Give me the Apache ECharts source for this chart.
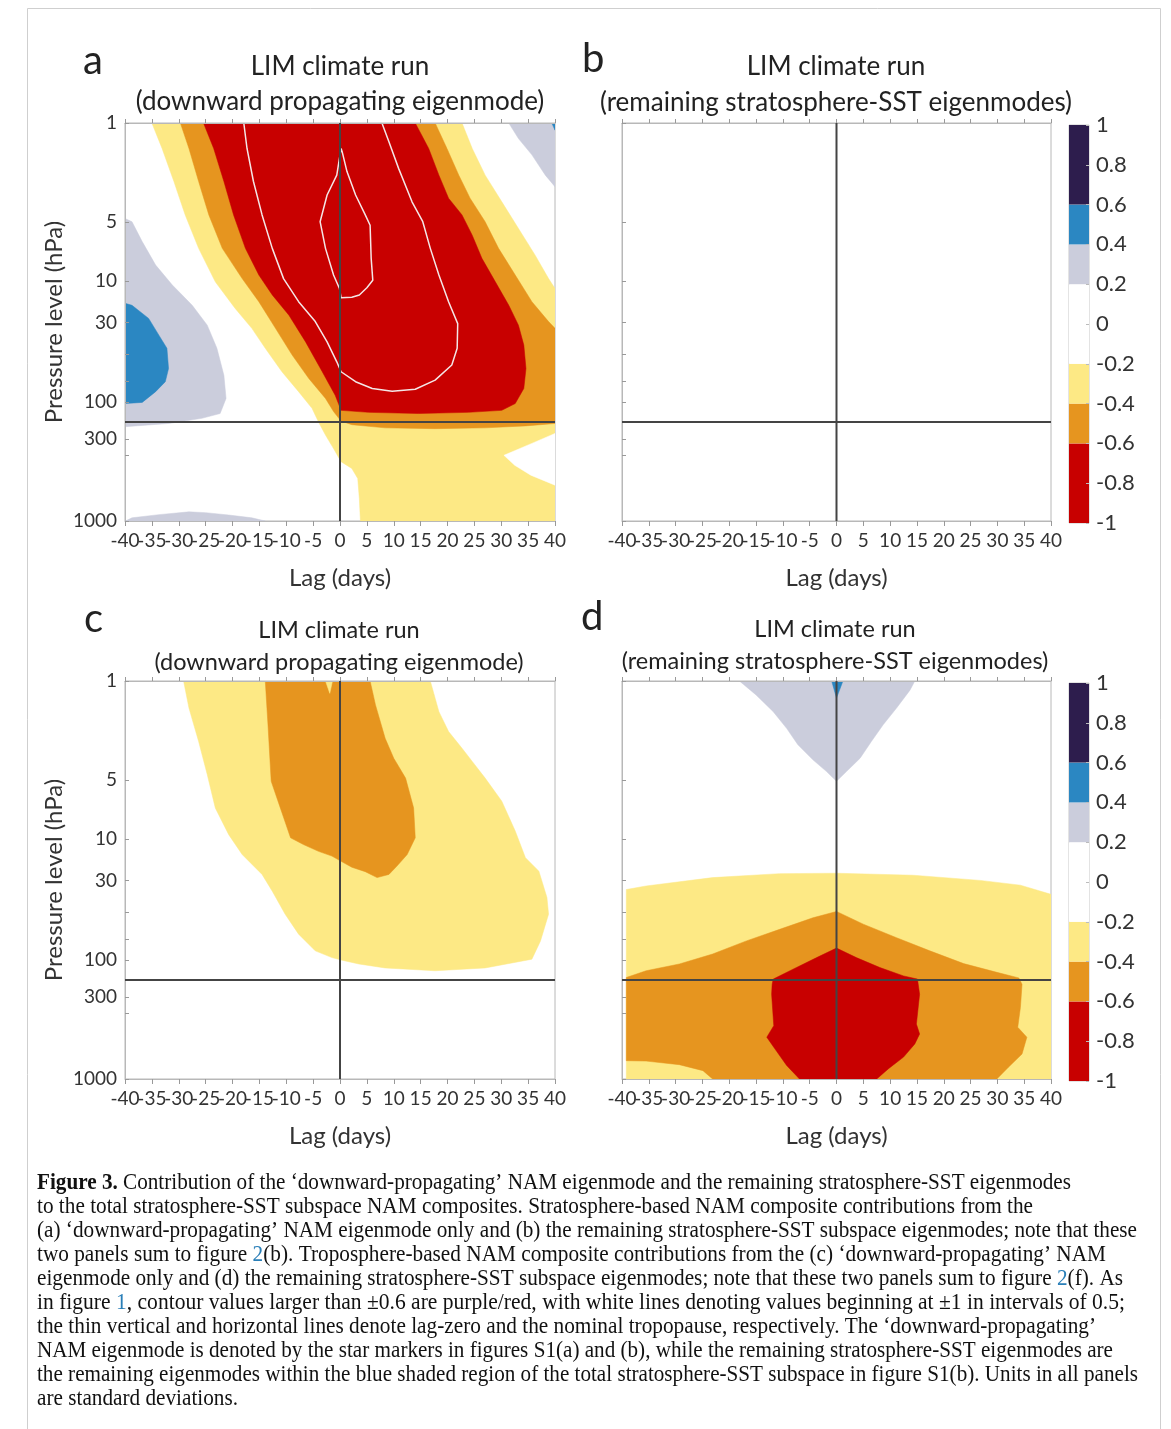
<!DOCTYPE html>
<html>
<head>
<meta charset="utf-8">
<script src="https://cdn.jsdelivr.net/npm/echarts@6/dist/echarts.min.js"></script>
<style>
  html, body { margin: 0; padding: 0; background: #fff; }
  #fig { width: 1171px; height: 1429px; }
</style>
</head>
<body>
<div id="fig"></div>
<script>
// ---- axes ----
const lagMin = -40, lagMax = 40, lagStep = 5;
const lagTickLabels = ['-40','-35','-30','-25','-20','-15','-10','-5','0','5','10','15','20','25','30','35','40'];
const levelLabels = ['1', '5', '10', '30', '100', '300', '1000'];
// where each pressure label sits down the axis (0 = top, 100 = bottom)
const levelPos = [0, 24.9, 39.7, 50.1, 70.1, 79.4, 100];
const levelTickPos = [0, 24.9, 39.7, 50.1, 58.0, 64.8, 70.1, 79.4, 83.4, 100];
const tropopausePos = 75.1;

// ---- colour scale ----
const cbarLevels = [-1, -0.6, -0.4, -0.2, 0.2, 0.4, 0.6, 1];
const cbarColors = ['#c80000', '#e6951f', '#fde985', '#ffffff', '#cbcddc', '#2b87c2', '#2d1d4d'];
// band index: 0 red, 1 orange, 2 yellow, 3 white, 4 grey, 5 blue, 6 purple

// ---- panel a : contour regions, [lag, level position] ----
const aYellow = [[-35.0,0],[-33.1,6.4],[-30.9,14.7],[-28.8,23.1],[-26.3,31.5],[-23.2,39.9],[-19.5,46.6],[-16.4,51.6],[-13.9,56.6],[-10.8,62.5],[-7.7,67.5],[-5.2,71.7],[-4.0,75.1],[-2.7,78.4],[-1.2,81.8],[0.2,85.1],[2.2,86.8],[3.3,89.3],[3.6,94.4],[3.8,100],[40,100],[40,41.6],[38.8,39.1],[36.3,33.2],[33.2,26.5],[30.1,19.8],[27.0,13.1],[24.6,6.4],[22.7,0]];
const aOrange = [[-29.7,0],[-28.1,6.4],[-26.3,14.7],[-24.4,23.1],[-21.9,31.5],[-18.2,39.1],[-15.1,44.9],[-12.0,51.6],[-8.9,58.3],[-5.8,64.2],[-2.7,69.2],[-1.2,72.5],[0.2,74.9],[2.2,75.8],[8.4,76.6],[17.7,76.8],[27.0,76.6],[34.5,76.1],[40,75.5],[40,51.6],[38.8,49.9],[35.7,44.9],[32.6,38.2],[29.5,31.5],[27.0,24.8],[24.2,18.9],[22.1,13.1],[19.9,6.4],[17.7,0]];
const aRed = [[-25.4,0],[-23.5,6.4],[-21.6,14.7],[-19.8,23.1],[-17.6,31.5],[-15.1,38.2],[-12.6,43.2],[-9.5,48.3],[-6.4,55.0],[-3.3,62.5],[-0.9,68.4],[0.2,72.2],[5.3,72.7],[14.6,73.0],[23.9,72.7],[30.1,72.2],[32.6,70.5],[34.2,66.7],[34.6,61.7],[34.2,55.8],[33.2,50.8],[31.4,45.8],[28.9,39.9],[26.4,34.0],[24.6,28.2],[22.7,23.1],[20.2,18.9],[18.4,13.1],[16.5,6.4],[14.0,0]];
const aWhiteHole = [[40,78.0],[35.7,80.5],[30.5,83.5],[32.5,86.0],[35.5,88.5],[40,91.0]];
const aGreyLeft = [[-40,24.0],[-38.7,24.8],[-36.8,29.8],[-34.3,35.7],[-31.2,40.7],[-27.5,45.8],[-24.7,50.8],[-22.9,56.6],[-21.6,63.4],[-21.2,69.2],[-22.3,73.0],[-25.7,74.2],[-31.9,75.5],[-40,76.3]];
const aBlueLeft = [[-40,45.3],[-38.7,45.8],[-35.6,49.1],[-33.7,53.3],[-32.2,56.6],[-31.9,61.7],[-32.5,65.0],[-34.3,67.5],[-36.8,70.2],[-40,70.5]];
const aGreyCorner = [[31.4,0],[33.2,3.9],[35.7,8.0],[38.2,13.1],[40,16.0],[40,0]];
const aBlueCorner = [[39.4,0],[40,1.8],[40,0]];
const aGreyBottom = [[-39.9,100],[-38.7,99.2],[-33.7,98.4],[-28.1,97.7],[-25.0,97.9],[-20.7,98.5],[-16.4,99.2],[-13.9,100]];
// white contour lines (-1 and -1.5)
const aMinus1 = [[-17.9,0],[-17.3,6.4],[-16.1,14.7],[-14.5,23.1],[-12.6,31.5],[-10.5,39.1],[-7.7,44.9],[-4.6,49.9],[-2.4,55.0],[-0.6,60.0],[0.2,62.5],[2.9,65.0],[6.0,66.7],[9.7,67.4],[14.0,66.9],[17.7,64.6],[20.8,60.8],[21.8,56.6],[21.9,50.4],[20.2,44.9],[18.4,38.2],[16.8,31.5],[15.4,24.8],[13.4,19.8],[10.9,11.4],[9.1,4.7],[7.8,0]];
const aMinus15 = [[0.2,6.4],[-0.6,13.1],[-2.4,18.1],[-3.7,24.8],[-2.7,31.5],[-1.2,38.2],[-0.1,41.6],[0.2,43.9],[2.2,43.8],[3.6,43.2],[5.0,41.4],[6.1,39.5],[5.8,34.0],[5.6,25.7],[4.7,23.1],[2.9,18.1],[1.3,12.2],[0.4,7.2],[0.2,6.4]];

// ---- panel c ----
const cYellow = [[-29.1,0],[-28.1,6.8],[-26.3,15.2],[-24.7,23.5],[-23.2,31.9],[-20.7,38.6],[-18.2,43.6],[-14.5,48.6],[-12.6,52.8],[-10.2,58.6],[-7.7,63.6],[-4.6,67.8],[-1.5,69.5],[0.2,70.1],[3.5,71.1],[8.4,72.1],[17.7,72.8],[27.0,72.1],[35.7,69.9],[37.3,65.3],[38.8,58.6],[38.5,54.4],[37.0,47.8],[34.5,44.4],[32.6,37.7],[30.1,30.2],[27.0,24.4],[24.6,20.2],[22.7,16.9],[20.2,12.7],[18.4,7.7],[16.8,0]];
const cOrange = [[-13.9,0],[-13.4,11.0],[-12.8,25.2],[-11.1,31.9],[-9.2,39.4],[-6.8,41.1],[-4.0,42.8],[-1.5,44.0],[0.2,45.3],[2.2,46.8],[4.7,47.9],[6.9,49.4],[9.1,48.6],[10.6,46.5],[12.5,43.6],[14.0,39.4],[13.7,31.9],[12.2,24.4],[10.0,19.4],[8.4,14.4],[6.6,6.0],[5.6,0]];
const cNotch = [[-2.7,0],[-1.9,3.1],[-1.4,0]];

// ---- panel d ----
const dGrey = [[-18.1,0],[-15.0,3.5],[-11.8,7.7],[-9.3,11.9],[-7.2,16.0],[-4.4,19.8],[-1.9,22.7],[0,25.2],[1.9,22.7],[4.4,19.4],[6.5,15.2],[8.7,11.0],[11.2,6.8],[13.7,2.3],[14.6,0]];
const dBlue = [[-0.9,0],[0,4.3],[1.2,0]];
const dYellow = [[-39.2,52.4],[-35.5,51.5],[-23.1,49.4],[-10.6,48.4],[0,48.3],[14.3,48.8],[26.8,50.1],[34.3,51.3],[40,53.6],[40,100],[-39.2,100]];
const dOrange = [[-39.2,74.5],[-35.5,72.8],[-29.3,71.1],[-23.1,68.6],[-16.8,65.3],[-10.6,62.4],[-4.4,59.5],[0,57.9],[5.0,61.1],[11.2,64.5],[17.4,67.8],[23.7,71.0],[29.9,73.2],[34.0,74.6],[34.6,76.2],[34.3,82.0],[33.8,87.0],[35.5,89.5],[34.6,93.7],[32.1,97.0],[29.9,100],[-23.1,100],[-24.9,97.9],[-29.3,96.4],[-35.5,95.5],[-39.2,95.4]];
const dRed = [[-11.8,74.9],[-8.1,72.4],[-3.7,69.5],[0,67.1],[3.7,69.5],[8.1,72.0],[12.5,74.1],[15.1,74.9],[15.5,78.7],[14.9,86.2],[15.5,88.7],[14.6,91.2],[12.5,94.5],[9.7,97.4],[7.5,100],[-6.9,100],[-9.3,96.6],[-11.5,92.4],[-13.0,89.5],[-11.7,86.6],[-12.1,78.7],[-12.0,76.2]];

const panels = [
  { letter: 'a', title: ['LIM climate run', '(downward propagating eigenmode)'],
    fills: [[aYellow,2],[aOrange,1],[aRed,0],[aWhiteHole,3],[aGreyLeft,4],[aBlueLeft,5],[aGreyCorner,4],[aBlueCorner,5],[aGreyBottom,4]],
    lines: [aMinus1, aMinus15] },
  { letter: 'b', title: ['LIM climate run', '(remaining stratosphere-SST eigenmodes)'], fills: [], lines: [] },
  { letter: 'c', title: ['LIM climate run', '(downward propagating eigenmode)'],
    fills: [[cYellow,2],[cOrange,1],[cNotch,2]], lines: [] },
  { letter: 'd', title: ['LIM climate run', '(remaining stratosphere-SST eigenmodes)'],
    fills: [[dYellow,2],[dOrange,1],[dRed,0],[dGrey,4],[dBlue,5]], lines: [] }
];

// ---- caption ----
const captionLines = [
  [['b','Figure 3.'],['n',' Contribution of the \u2018downward-propagating\u2019 NAM eigenmode and the remaining stratosphere-SST eigenmodes']],
  [['n','to the total stratosphere-SST subspace NAM composites. Stratosphere-based NAM composite contributions from the']],
  [['n','(a) \u2018downward-propagating\u2019 NAM eigenmode only and (b) the remaining stratosphere-SST subspace eigenmodes; note that these']],
  [['n','two panels sum to figure '],['l','2'],['n','(b). Troposphere-based NAM composite contributions from the (c) \u2018downward-propagating\u2019 NAM']],
  [['n','eigenmode only and (d) the remaining stratosphere-SST subspace eigenmodes; note that these two panels sum to figure '],['l','2'],['n','(f). As']],
  [['n','in figure '],['l','1'],['n',', contour values larger than \u00b10.6 are purple/red, with white lines denoting values beginning at \u00b11 in intervals of 0.5;']],
  [['n','the thin vertical and horizontal lines denote lag-zero and the nominal tropopause, respectively. The \u2018downward-propagating\u2019']],
  [['n','NAM eigenmode is denoted by the star markers in figures S1(a) and (b), while the remaining stratosphere-SST eigenmodes are']],
  [['n','the remaining eigenmodes within the blue shaded region of the total stratosphere-SST subspace in figure S1(b). Units in all panels']],
  [['n','are standard deviations.']]
];
const captionRight = [1071, 1033, 1137, 1106, 1123, 1125, 1096, 1113, 1138, 238];

// ---- layout ----
const boxes = [[125,123,430,398],[622,123,429,398],[125,681,430,398],[622,681,429,398]];
const cbarBoxes = [[1069,125,20,398],[1069,683,20,398]];
const FONT = 'Lato';
const TXT = '#333';

const chart = echarts.init(document.getElementById('fig'));

const grid = [], xAxis = [], yAxis = [], series = [], graphic = [];

boxes.forEach(b => {
  grid.push({ left: b[0], top: b[1], width: b[2], height: b[3], show: true, borderColor: '#b8b8b8', borderWidth: 1 });
});
cbarBoxes.forEach(b => {
  grid.push({ left: b[0], top: b[1], width: b[2], height: b[3], show: true, borderColor: '#c8c8c8', borderWidth: 1 });
});

// bottom lag axes 0..3: labelled ticks (category so every crowded label is kept)
boxes.forEach((b, i) => {
  xAxis.push({
    gridIndex: i, type: 'category', data: lagTickLabels, boundaryGap: false, position: 'bottom', z: 5,
    name: 'Lag (days)', nameLocation: 'middle', nameGap: 45,
    nameTextStyle: { fontFamily: FONT, fontSize: 24, color: TXT },
    axisLine: { onZero: false, lineStyle: { color: '#b8b8b8' } },
    axisTick: { length: 5, interval: 0, alignWithLabel: true, lineStyle: { color: '#999' } },
    axisLabel: { interval: 0, fontFamily: FONT, fontSize: 19, color: TXT, margin: 10 },
    splitLine: { show: false }
  });
});
// top lag axes 4..7: value axes carrying the data, ticks only
boxes.forEach((b, i) => {
  xAxis.push({
    gridIndex: i, type: 'value', position: 'top', min: lagMin, max: lagMax, interval: lagStep, z: 5,
    axisLine: { onZero: false, lineStyle: { color: '#b8b8b8' } },
    axisTick: { length: 4, lineStyle: { color: '#999' } },
    axisLabel: { show: false }, splitLine: { show: false }
  });
});
// colour bar x axes 8, 9
cbarBoxes.forEach((b, k) => {
  xAxis.push({ gridIndex: 4 + k, type: 'value', min: 0, max: 1, show: false });
});

// pressure axes 0..3
boxes.forEach((b, i) => {
  const left = (i % 2 === 0);
  yAxis.push({
    gridIndex: i, type: 'value', inverse: true, min: 0, max: 100, z: 5,
    name: left ? 'Pressure level (hPa)' : '', nameLocation: 'middle', nameGap: 59,
    nameTextStyle: { fontFamily: FONT, fontSize: 24, color: TXT },
    axisLine: { onZero: false, lineStyle: { color: '#b8b8b8' } },
    axisTick: { inside: true, length: 4, customValues: levelTickPos, lineStyle: { color: '#999' } },
    axisLabel: {
      show: left, customValues: levelPos, fontFamily: FONT, fontSize: 19, color: TXT, margin: 8,
      formatter: v => {
        const k = levelPos.findIndex(p => Math.abs(p - v) < 0.01);
        return k >= 0 ? levelLabels[k] : '';
      }
    },
    splitLine: { show: false }
  });
});
// colour bar value axes 4, 5
cbarBoxes.forEach((b, k) => {
  yAxis.push({
    gridIndex: 4 + k, type: 'value', position: 'right', min: -1, max: 1, interval: 0.2, z: 5,
    axisLine: { show: false, onZero: false },
    axisTick: { inside: true, length: 3, lineStyle: { color: '#bbb' } },
    axisLabel: { fontFamily: FONT, fontSize: 22, color: TXT, margin: 7 },
    splitLine: { show: false }
  });
});

// filled contour regions
panels.forEach((p, i) => {
  const xi = 4 + i;
  p.fills.forEach(([poly, ci]) => {
    series.push({
      type: 'custom', xAxisIndex: xi, yAxisIndex: i, clip: true, silent: true, z: 2,
      data: poly,
      renderItem: (params, api) => {
        if (params.dataIndex !== 0) return;
        return {
          type: 'polygon',
          shape: { points: poly.map(pt => api.coord(pt)) },
          style: { fill: cbarColors[ci], stroke: cbarColors[ci], lineWidth: 0.5 }
        };
      }
    });
  });
  p.lines.forEach(ln => {
    series.push({
      type: 'line', xAxisIndex: xi, yAxisIndex: i, data: ln, showSymbol: false, silent: true, z: 3,
      lineStyle: { color: '#f4e6e6', width: 1.5 }
    });
  });
  // lag-zero and tropopause lines
  series.push({
    type: 'line', xAxisIndex: xi, yAxisIndex: i, data: [[0, 0], [0, 100]], showSymbol: false, silent: true, z: 6,
    lineStyle: { color: '#444', width: 2 }
  });
  series.push({
    type: 'line', xAxisIndex: xi, yAxisIndex: i, data: [[lagMin, tropopausePos], [lagMax, tropopausePos]],
    showSymbol: false, silent: true, z: 6, lineStyle: { color: '#444', width: 2 }
  });
});

// colour bars
const bands = cbarColors.map((c, k) => [cbarLevels[k], cbarLevels[k + 1], k]);
cbarBoxes.forEach((b, k) => {
  series.push({
    type: 'custom', xAxisIndex: 8 + k, yAxisIndex: 4 + k, silent: true, data: bands,
    renderItem: (params, api) => {
      const top = api.coord([0, api.value(1)]);
      const bot = api.coord([1, api.value(0)]);
      return {
        type: 'rect',
        shape: { x: top[0], y: top[1], width: bot[0] - top[0], height: bot[1] - top[1] },
        style: { fill: cbarColors[api.value(2)] }
      };
    }
  });
});

// panel letters and titles
const letterPos = [[83, 61], [582, 59], [84, 619], [581, 617]];
const titlePos = [[340, 67, 102, 26], [836, 67, 103, 26], [339, 630, 662, 23.5], [835, 629, 661, 23.5]];
panels.forEach((p, i) => {
  graphic.push({ type: 'text', x: letterPos[i][0], y: letterPos[i][1],
    style: { text: p.letter, font: '40px ' + FONT, fill: '#222', verticalAlign: 'middle' } });
  const t = titlePos[i];
  graphic.push({ type: 'text', x: t[0], y: t[1],
    style: { text: p.title[0], font: t[3] + 'px ' + FONT, fill: '#222', align: 'center', verticalAlign: 'middle' } });
  graphic.push({ type: 'text', x: t[0], y: t[2],
    style: { text: p.title[1], font: t[3] + 'px ' + FONT, fill: '#222', align: 'center', verticalAlign: 'middle' } });
});

// caption, each line squeezed to the width it has in the printed figure
const fonts = { n: '22.5px "Liberation Serif"', b: 'bold 22.5px "Liberation Serif"', l: '22.5px "Liberation Serif"' };
const fills = { n: '#111', b: '#111', l: '#2a7fb8' };
const measure = document.createElement('canvas').getContext('2d');
captionLines.forEach((line, r) => {
  const widths = line.map(([s, t]) => { measure.font = fonts[s]; return measure.measureText(t).width; });
  const total = widths.reduce((a, b) => a + b, 0);
  const sx = (captionRight[r] - 37) / total;
  let x = 37;
  line.forEach(([s, t], j) => {
    graphic.push({ type: 'text', x: x, y: 1183 + r * 24, scaleX: sx,
      style: { text: t, font: fonts[s], fill: fills[s], verticalAlign: 'middle' } });
    x += widths[j] * sx;
  });
});

// thin frame round the figure
graphic.push({ type: 'rect', shape: { x: 27.5, y: 8.5, width: 1133, height: 1440 },
  style: { fill: 'none', stroke: '#cfcfcf', lineWidth: 1 }, z: -1 });

chart.setOption({
  backgroundColor: '#fff',
  animation: false,
  grid, xAxis, yAxis, series, graphic
});
</script>
</body>
</html>
